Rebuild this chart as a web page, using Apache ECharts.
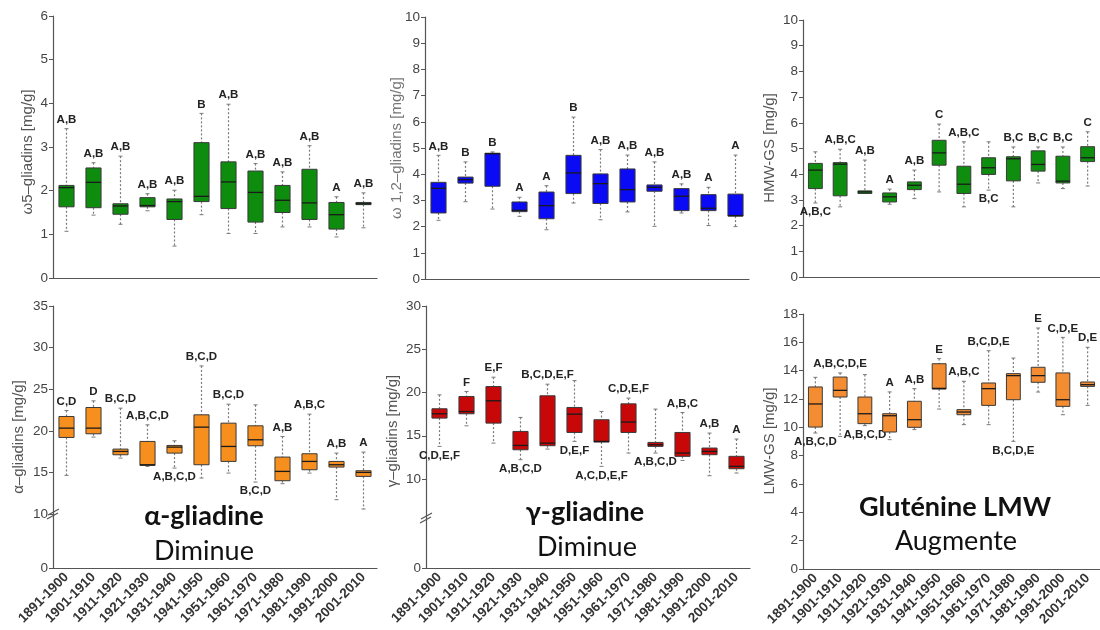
<!DOCTYPE html>
<html><head><meta charset="utf-8">
<script src="https://cdn.jsdelivr.net/npm/echarts@6/dist/echarts.min.js"></script>
<style>html,body{margin:0;padding:0;background:#fff}#c{width:1100px;height:630px}</style>
</head><body><div id="c"></div>
<script>
// ---- data ----
const categories = ['1891-1900','1901-1910','1911-1920','1921-1930','1931-1940','1941-1950','1951-1960','1961-1970','1971-1980','1981-1990','1991-2000','2001-2010'];

// each box: [low whisker, Q1, median, Q3, high whisker]
const omega5Boxes = [[1.07,1.63,2.07,2.12,3.42],[1.44,1.61,2.19,2.52,2.64],[1.23,1.46,1.65,1.70,2.79],[1.54,1.63,1.66,1.84,1.93],[0.73,1.34,1.75,1.81,2.01],[1.45,1.75,1.87,3.10,3.77],[1.02,1.59,2.20,2.66,3.98],[1.02,1.28,1.96,2.45,2.62],[1.17,1.50,1.78,2.12,2.43],[1.17,1.34,1.72,2.49,3.03],[0.94,1.12,1.45,1.73,1.86],[1.15,1.68,1.70,1.73,1.95]];
const omega5Letters = ['A,B','A,B','A,B','A,B','A,B','B','A,B','A,B','A,B','A,B','A','A,B'];
const omega5Sides = ['t','t','t','t','t','t','t','t','t','t','t','t'];

const omega12Boxes = [[2.24,2.52,3.46,3.69,4.72],[2.95,3.66,3.79,3.89,4.47],[2.67,3.54,4.78,4.80,4.85],[2.39,2.57,2.62,2.94,3.12],[1.88,2.30,2.80,3.32,3.56],[2.90,3.26,4.05,4.72,6.18],[2.26,2.88,3.64,4.01,4.94],[2.56,2.94,3.41,4.20,4.73],[2.01,3.35,3.50,3.59,4.47],[2.52,2.61,3.16,3.45,3.63],[2.04,2.61,2.70,3.22,3.50],[2.00,2.40,2.42,3.24,4.73]];
const omega12Letters = ['A,B','B','B','A','A','B','A,B','A,B','A,B','A,B','A','A'];
const omega12Sides = ['t','t','t','t','t','t','t','t','t','t','t','t'];

const hmwBoxes = [[2.88,3.44,4.16,4.42,4.87],[2.73,3.16,4.39,4.45,4.97],[3.25,3.25,3.31,3.35,4.55],[2.83,2.92,3.12,3.27,3.42],[3.05,3.40,3.57,3.70,4.16],[3.31,4.35,4.83,5.32,5.95],[2.73,3.25,3.61,4.31,5.26],[3.38,3.99,4.25,4.64,5.26],[2.73,3.74,4.60,4.68,5.06],[3.66,4.12,4.38,4.91,5.06],[3.44,3.66,3.73,4.70,5.06],[3.54,4.49,4.64,5.07,5.65]];
const hmwLetters = ['A,B,C','A,B,C','A,B','A','A,B','C','A,B,C','B,C','B,C','B,C','B,C','C'];
const hmwSides = ['b','t','t','t','t','t','t','b','t','t','t','t'];

const alphaBoxes = [[14.64,19.2,20.32,21.72,22.44],[19.24,19.64,20.32,22.8,23.6],[16.72,17.12,17.52,17.8,22.72],[15.72,15.84,15.92,18.72,20.72],[15.52,17.32,18.04,18.24,18.8],[14.32,15.92,20.44,21.92,27.8],[14.92,16.32,18.12,20.92,23.2],[13.84,18.2,18.92,20.6,23.12],[13.64,14.0,15.12,16.84,19.32],[14.92,15.32,16.32,17.24,22.0],[11.72,15.64,15.92,16.32,17.32],[10.6,14.52,15.0,15.2,17.44]];
const alphaLetters = ['C,D','D','B,C,D','A,B,C,D','A,B,C,D','B,C,D','B,C,D','B,C,D','A,B','A,B,C','A,B','A'];
const alphaSides = ['t','t','t','t','b','t','t','b','t','t','t','t'];

const gammaBoxes = [[13.77,17.04,17.54,18.12,19.73],[16.15,17.54,17.8,19.54,20.12],[14.15,16.46,19.04,20.69,21.77],[12.23,13.38,13.88,15.5,17.12],[13.46,13.85,14.15,19.62,20.96],[14.35,15.38,17.5,18.27,21.38],[11.46,14.27,14.35,16.85,17.81],[13.0,15.38,16.58,18.69,19.35],[13.0,13.77,13.96,14.23,18.08],[12.15,12.62,13.0,15.38,17.69],[10.38,12.81,13.19,13.58,15.31],[10.69,11.19,11.46,12.62,14.62]];
const gammaLetters = ['C,D,E,F','F','E,F','A,B,C,D','B,C,D,E,F','D,E,F','A,C,D,E,F','C,D,E,F','A,B,C,D','A,B,C','A,B','A'];
const gammaSides = ['b','t','t','b','t','b','b','t','b','t','t','t'];

const lmwBoxes = [[9.6,10.02,11.65,12.85,13.53],[9.36,12.14,12.61,13.55,13.84],[10.12,10.26,10.96,12.14,13.72],[9.13,9.67,10.82,10.96,12.5],[9.84,10.0,10.54,11.84,12.73],[11.29,12.7,12.75,14.49,14.85],[10.19,10.89,11.08,11.25,13.25],[10.19,11.55,12.73,13.13,15.41],[9.01,11.95,13.65,13.79,14.89],[12.49,13.18,13.65,14.24,17.01],[10.89,11.48,11.95,13.84,16.35],[11.55,12.89,13.01,13.2,15.65]];
const lmwLetters = ['A,B,C,D','A,B,C,D,E','A,B,C,D','A','A,B','E','A,B,C','B,C,D,E','B,C,D,E','E','C,D,E','D,E'];
const lmwSides = ['b','t','b','t','t','t','t','t','b','t','t','t'];

const yNames = ['ω5–gliadins [mg/g]','ω 1,2–gliadins [mg/g]','HMW-GS [mg/g]','α–gliadins [mg/g]','γ–gliadins [mg/g]','LMW-GS [mg/g]'];

// ---- chart ----
const FONT = '"Liberation Sans", Arial, sans-serif';
const AX = '#555';

function makeRender(color, letters, sides) {
  return function (params, api) {
    const i = api.value(0);
    const p = [1,2,3,4,5].map(k => api.coord([i, api.value(k)]));
    const x = p[0][0];
    const bw = api.size([1, 0])[0] * 0.56;
    const yLow = p[0][1], yQ1 = p[1][1], yMed = p[2][1], yQ3 = p[3][1], yHigh = p[4][1];
    const dash = {stroke: '#7a7a7a', lineWidth: 1.2, lineDash: [2, 2], fill: null};
    const top = sides[i] === 't';
    return {
      type: 'group',
      children: [
        {type: 'line', shape: {x1: x, y1: yHigh, x2: x, y2: yQ3}, style: dash},
        {type: 'line', shape: {x1: x, y1: yQ1, x2: x, y2: yLow}, style: dash},
        {type: 'line', shape: {x1: x - 2, y1: yHigh, x2: x + 2, y2: yHigh}, style: {stroke: '#7a7a7a', lineWidth: 1}},
        {type: 'line', shape: {x1: x - 2, y1: yLow, x2: x + 2, y2: yLow}, style: {stroke: '#7a7a7a', lineWidth: 1}},
        {type: 'rect', shape: {x: x - bw / 2, y: yQ3, width: bw, height: Math.max(yQ1 - yQ3, 1.5)}, style: {fill: color, stroke: '#3a3a3a', lineWidth: 1}},
        {type: 'line', shape: {x1: x - bw / 2, y1: yMed, x2: x + bw / 2, y2: yMed}, style: {stroke: '#1a1a1a', lineWidth: 1.3}},
        {type: 'text', x: x, y: top ? yHigh - 3 : yLow + 3,
          style: {text: letters[i], align: 'center', verticalAlign: top ? 'bottom' : 'top',
            font: 'bold 11.5px ' + FONT, fill: '#222'}}
      ]
    };
  };
}

const grids = [
  {left: 53, top: 16, width: 324, height: 262},
  {left: 425, top: 17, width: 324, height: 262},
  {left: 803, top: 20, width: 302, height: 257},
  {left: 53, top: 306, width: 324, height: 208},
  {left: 53, top: 514, width: 324, height: 54},
  {left: 426, top: 306, width: 324, height: 173},
  {left: 426, top: 479, width: 324, height: 89},
  {left: 803, top: 314, width: 302, height: 255}
];

const xAxes = grids.map((g, gi) => {
  const base = {
    type: 'category', gridIndex: gi, data: categories, boundaryGap: true,
    axisLine: {lineStyle: {color: AX, width: 1.2}},
    axisTick: {alignWithLabel: true, length: 4, lineStyle: {color: AX}},
    axisLabel: {show: false}
  };
  if (gi === 3 || gi === 5) base.show = false;
  if (gi === 4 || gi === 6 || gi === 7) {
    base.axisLabel = {show: true, rotate: 45, interval: 0, margin: 7, fontSize: 13.5, fontWeight: 'bold',
      color: '#333', fontFamily: FONT};
  }
  return base;
});

const yRanges = [[0,6,1],[0,10,1],[0,10,1],[10,35,5],[0,10,10],[10,30,5],[0,10,10],[0,18,2]];
const yAxes = yRanges.map((r, gi) => {
  const lower = (gi === 4 || gi === 6);
  return {
    type: 'value', gridIndex: gi, min: r[0], max: r[1], interval: r[2],
    axisLine: {show: true, lineStyle: {color: AX, width: 1.2}},
    axisTick: {show: true, length: 4, lineStyle: {color: AX}},
    splitLine: {show: false},
    axisLabel: {fontSize: 13.5, color: '#444', fontFamily: FONT, margin: 5,
      formatter: lower ? (v => v === 0 ? '0' : '') : undefined}
  };
});

const panels = [
  {g: 0, boxes: omega5Boxes, letters: omega5Letters, sides: omega5Sides, color: '#0d8c0d'},
  {g: 1, boxes: omega12Boxes, letters: omega12Letters, sides: omega12Sides, color: '#0a0af5'},
  {g: 2, boxes: hmwBoxes, letters: hmwLetters, sides: hmwSides, color: '#0f8d0f'},
  {g: 3, boxes: alphaBoxes, letters: alphaLetters, sides: alphaSides, color: '#f78f1e'},
  {g: 5, boxes: gammaBoxes, letters: gammaLetters, sides: gammaSides, color: '#c80808'},
  {g: 7, boxes: lmwBoxes, letters: lmwLetters, sides: lmwSides, color: '#f48c32'}
];

const series = panels.map(pn => ({
  type: 'custom', xAxisIndex: pn.g, yAxisIndex: pn.g,
  renderItem: makeRender(pn.color, pn.letters, pn.sides),
  encode: {x: 0, y: [1, 2, 3, 4, 5]},
  data: pn.boxes.map((b, i) => [i].concat(b)),
  clip: false, silent: true, z: 5
}));

function nameText(txt, x, y, color) {
  return {type: 'text', x: x, y: y, rotation: Math.PI / 2, z: 50,
    style: {text: txt, align: 'center', verticalAlign: 'middle', font: '15px ' + FONT, fill: color}};
}
function breakMark(x, y) {
  return {type: 'group', z: 60, children: [
    {type: 'rect', shape: {x: x - 3, y: y - 2, width: 6, height: 4}, style: {fill: '#fff'}},
    {type: 'line', shape: {x1: x - 5, y1: y + 1, x2: x + 6, y2: y - 5}, style: {stroke: AX, lineWidth: 1.2}},
    {type: 'line', shape: {x1: x - 6, y1: y + 5, x2: x + 5, y2: y - 1}, style: {stroke: AX, lineWidth: 1.2}}
  ]};
}
function bigText(txt, x, y, bold) {
  return {type: 'text', x: x, y: y, z: 50,
    style: {text: txt, align: 'center', verticalAlign: 'middle',
      font: (bold ? 'bold ' : '') + '27px Lato, "Open Sans", sans-serif', fill: '#111'}};
}

const graphic = [
  nameText(yNames[0], 28, 152, '#555'),
  nameText(yNames[1], 397, 148, '#777'),
  nameText(yNames[2], 770, 148, '#555'),
  nameText(yNames[3], 19, 437, '#555'),
  nameText(yNames[4], 393, 431, '#555'),
  nameText(yNames[5], 770, 441, '#555'),
  breakMark(53, 514),
  breakMark(426, 518),
  bigText('α-gliadine', 204, 516, true),
  bigText('Diminue', 204, 551, false),
  bigText('γ-gliadine', 585, 512, true),
  bigText('Diminue', 587, 547, false),
  bigText('Gluténine LMW', 955, 507, true),
  bigText('Augmente', 956, 541, false)
];

const chart = echarts.init(document.getElementById('c'), null, {renderer: 'canvas'});
chart.setOption({
  animation: false,
  backgroundColor: '#fff',
  grid: grids,
  xAxis: xAxes,
  yAxis: yAxes,
  series: series,
  graphic: graphic
});
</script>
</body></html>
